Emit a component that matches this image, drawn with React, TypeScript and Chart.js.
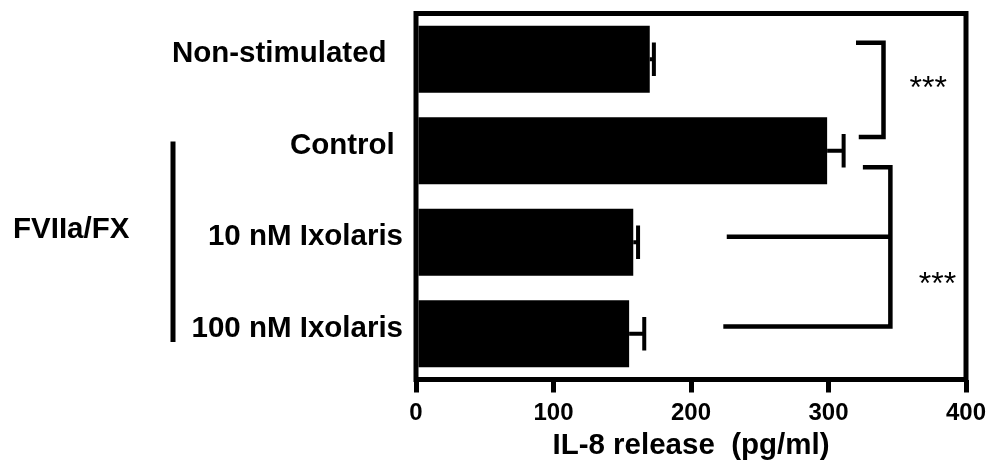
import React, { useEffect, useRef } from "react";
import { Chart, registerables } from "chart.js";

Chart.register(...registerables);

const categories = ["Non-stimulated  ", "Control ", "10 nM Ixolaris", "100 nM Ixolaris"];
const meanRelease = [170, 299, 158, 155];
const semRelease = [3, 12, 3.5, 11];
const xMin = 0;
const xMax = 400;
const xStep = 100;
const groupLabel = "FVIIa/FX";
const axisTitle = "IL-8 release  (pg/ml)";
const sigLabel = "***";

const FONT = '"Liberation Sans", Arial, Helvetica, sans-serif';

const overlay = {
  id: "overlay",
  afterDatasetsDraw(chart: any) {
    const { ctx, chartArea: a, scales } = chart;
    const xs = scales.x;
    const ys = scales.y;
    const X = (v: number) => xs.getPixelForValue(v);
    const Y = (v: number) => ys.getPixelForValue(v);
    const meta = chart.getDatasetMeta(0);
    ctx.save();
    ctx.strokeStyle = "#000";
    ctx.fillStyle = "#000";
    ctx.lineCap = "butt";
    ctx.lineJoin = "miter";

    // error bars (positive side only)
    ctx.lineWidth = 4;
    meta.data.forEach((bar: any, i: number) => {
      const x0 = X(meanRelease[i]);
      const x1 = X(meanRelease[i] + semRelease[i]);
      const y = bar.y;
      const h = bar.height / 4;
      ctx.beginPath();
      ctx.moveTo(x0, y);
      ctx.lineTo(x1, y);
      ctx.moveTo(x1, y - h);
      ctx.lineTo(x1, y + h);
      ctx.stroke();
    });

    // frame
    ctx.lineWidth = 5;
    ctx.strokeRect(a.left, a.top, a.right - a.left, a.bottom - a.top);

    // significance brackets
    ctx.lineWidth = 4.5;
    ctx.beginPath();
    ctx.moveTo(X(320), Y(-0.18));
    ctx.lineTo(X(340), Y(-0.18));
    ctx.lineTo(X(340), Y(0.85));
    ctx.lineTo(X(322), Y(0.85));
    ctx.stroke();

    ctx.beginPath();
    ctx.moveTo(X(325), Y(1.18));
    ctx.lineTo(X(345), Y(1.18));
    ctx.lineTo(X(345), Y(2.92));
    ctx.lineTo(X(223.5), Y(2.92));
    ctx.stroke();
    ctx.beginPath();
    ctx.moveTo(X(226), Y(1.94));
    ctx.lineTo(X(345), Y(1.94));
    ctx.stroke();

    ctx.font = `normal 32px ${FONT}`;
    ctx.textAlign = "center";
    ctx.textBaseline = "middle";
    ctx.fillText(sigLabel, X(372.5), Y(0.25) + 7);
    ctx.fillText(sigLabel, X(379.3), Y(2.39) + 7);

    // group bracket on the left
    ctx.lineWidth = 5;
    ctx.beginPath();
    ctx.moveTo(a.left - 243, Y(0.9));
    ctx.lineTo(a.left - 243, Y(3.09));
    ctx.stroke();

    ctx.font = `bold 29.5px ${FONT}`;
    ctx.textAlign = "left";
    ctx.textBaseline = "middle";
    ctx.fillText(groupLabel, 13, Y(1.87));
    ctx.restore();
  },
};

export default function App() {
  const ref = useRef<HTMLCanvasElement | null>(null);
  useEffect(() => {
    if (!ref.current) return;
    const chart = new Chart(ref.current, {
      type: "bar",
      data: {
        labels: categories,
        datasets: [
          {
            data: meanRelease,
            backgroundColor: "#000",
            borderWidth: 0,
            barPercentage: 0.732,
            categoryPercentage: 1,
          },
        ],
      },
      options: {
        indexAxis: "y",
        responsive: false,
        animation: false,
        devicePixelRatio: 1,
        layout: { padding: { top: 13.5, right: 27, left: 0, bottom: 0 } },
        plugins: { legend: { display: false }, tooltip: { enabled: false }, title: { display: false } },
        scales: {
          x: {
            type: "linear",
            min: xMin,
            max: xMax,
            ticks: {
              stepSize: xStep,
              color: "#000",
              padding: 6,
              font: { family: FONT, size: 24, weight: "bold" },
            },
            grid: {
              display: true,
              drawOnChartArea: false,
              drawTicks: true,
              tickLength: 13,
              lineWidth: 5,
              color: "#000",
            },
            border: { display: false },
            title: {
              display: true,
              text: axisTitle,
              color: "#000",
              padding: { top: 0, bottom: 4 },
              font: { family: FONT, size: 29.5, weight: "bold" },
            },
            afterFit(scale: any) {
              scale.height = 88.5;
              scale.paddingLeft = 0;
            },
          },
          y: {
            type: "category",
            ticks: {
              color: "#000",
              padding: 13,
              labelOffset: -5,
              font: { family: FONT, size: 29.5, weight: "bold" },
            },
            grid: { display: false, drawTicks: false },
            border: { display: false },
            afterFit(scale: any) {
              scale.width = 416;
              scale.paddingTop = 0;
              scale.paddingBottom = 0;
            },
          },
        },
      },
      plugins: [overlay],
    } as any);
    return () => chart.destroy();
  }, []);
  return (
    <div style={{ position: "absolute", left: 0, top: 0, width: 993, height: 468, background: "#fff" }}>
      <canvas ref={ref} width={993} height={468} />
    </div>
  );
}
